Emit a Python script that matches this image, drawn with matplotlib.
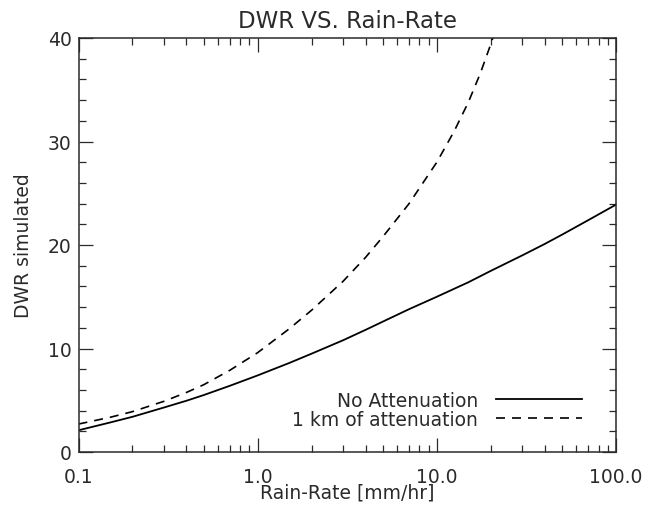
import numpy as np
import matplotlib
matplotlib.use("Agg")
import matplotlib.pyplot as plt
from matplotlib.ticker import FixedLocator, MultipleLocator, NullFormatter

# values
rain = [0.1, 0.15, 0.2, 0.3, 0.4, 0.5, 0.7, 1.0, 1.5, 2.0, 3.0, 4.0, 5.0, 7.0,
        10.0, 15.0, 20.0, 30.0, 40.0, 50.0, 70.0, 100.0]
dwr_noatt = [2.1, 2.85, 3.4, 4.3, 4.95, 5.5, 6.4, 7.4, 8.6, 9.5, 10.8, 11.8, 12.6, 13.8,
             15.0, 16.4, 17.5, 19.0, 20.1, 21.0, 22.4, 23.9]

rain_att = [0.1, 0.15, 0.2, 0.3, 0.4, 0.5, 0.7, 1.0, 1.5, 2.0, 3.0, 4.0, 5.0, 7.0,
            10.0, 12.5, 15.0, 17.5, 20.0, 22.0]
dwr_att = [2.7, 3.35, 3.9, 4.9, 5.75, 6.5, 7.9, 9.6, 11.9, 13.7, 16.5, 18.8, 20.8, 24.0,
           28.0, 31.0, 33.8, 36.6, 39.4, 41.6]

xticks = [0.1, 1.0, 10.0, 100.0]
xticklabels = ["0.1", "1.0", "10.0", "100.0"]
yticks = [0, 10, 20, 30, 40]

plt.rcParams['font.family'] = ['DejaVu Sans']
fs = 13.5
ink = '#2a2a2a'

fig = plt.figure(figsize=(6.46, 5.06), dpi=100)
ax = fig.add_axes([78.5/646, 53/506, 537.5/646, 414/506])

ax.plot(rain, dwr_noatt, color='black', lw=1.3, label='No Attenuation')
ax.plot(rain_att, dwr_att, color='black', lw=1.2, dashes=(5.4, 4.2), label='1 km of attenuation')

ax.set_xscale('log')
ax.set_xlim(0.1, 100)
ax.set_ylim(0, 40)
ax.xaxis.set_major_locator(FixedLocator(xticks))
ax.set_xticklabels(xticklabels)
ax.xaxis.set_minor_formatter(NullFormatter())
ax.set_yticks(yticks)
ax.yaxis.set_minor_locator(MultipleLocator(2))

ax.tick_params(which='both', direction='in', top=True, right=True, width=0.9, colors=ink, labelsize=fs)
ax.tick_params(which='major', length=10)
ax.tick_params(which='minor', length=5)
ax.tick_params(axis='x', pad=11)
ax.tick_params(axis='y', pad=5)
for s in ax.spines.values():
    s.set_linewidth(1.1)
    s.set_color(ink)

ax.set_xlabel('Rain-Rate [mm/hr]', fontsize=fs, color=ink)
ax.xaxis.set_label_coords(0.5, -0.074)
ax.set_ylabel('DWR simulated', fontsize=fs, color=ink)
ax.yaxis.set_label_coords(-0.085, 0.5)

fig.text(347/646, 1 - 22/506, 'DWR VS. Rain-Rate', fontsize=16.5, color=ink, ha='center', va='center')

leg = ax.legend(loc='lower right', bbox_to_anchor=(0.937, 0.056), markerfirst=False, frameon=False,
                fontsize=fs, handlelength=4.6, handletextpad=0.95, labelspacing=0.0,
                borderpad=0, borderaxespad=0)
for t in leg.get_texts():
    t.set_color(ink)

fig.savefig('out.png', dpi=100)
